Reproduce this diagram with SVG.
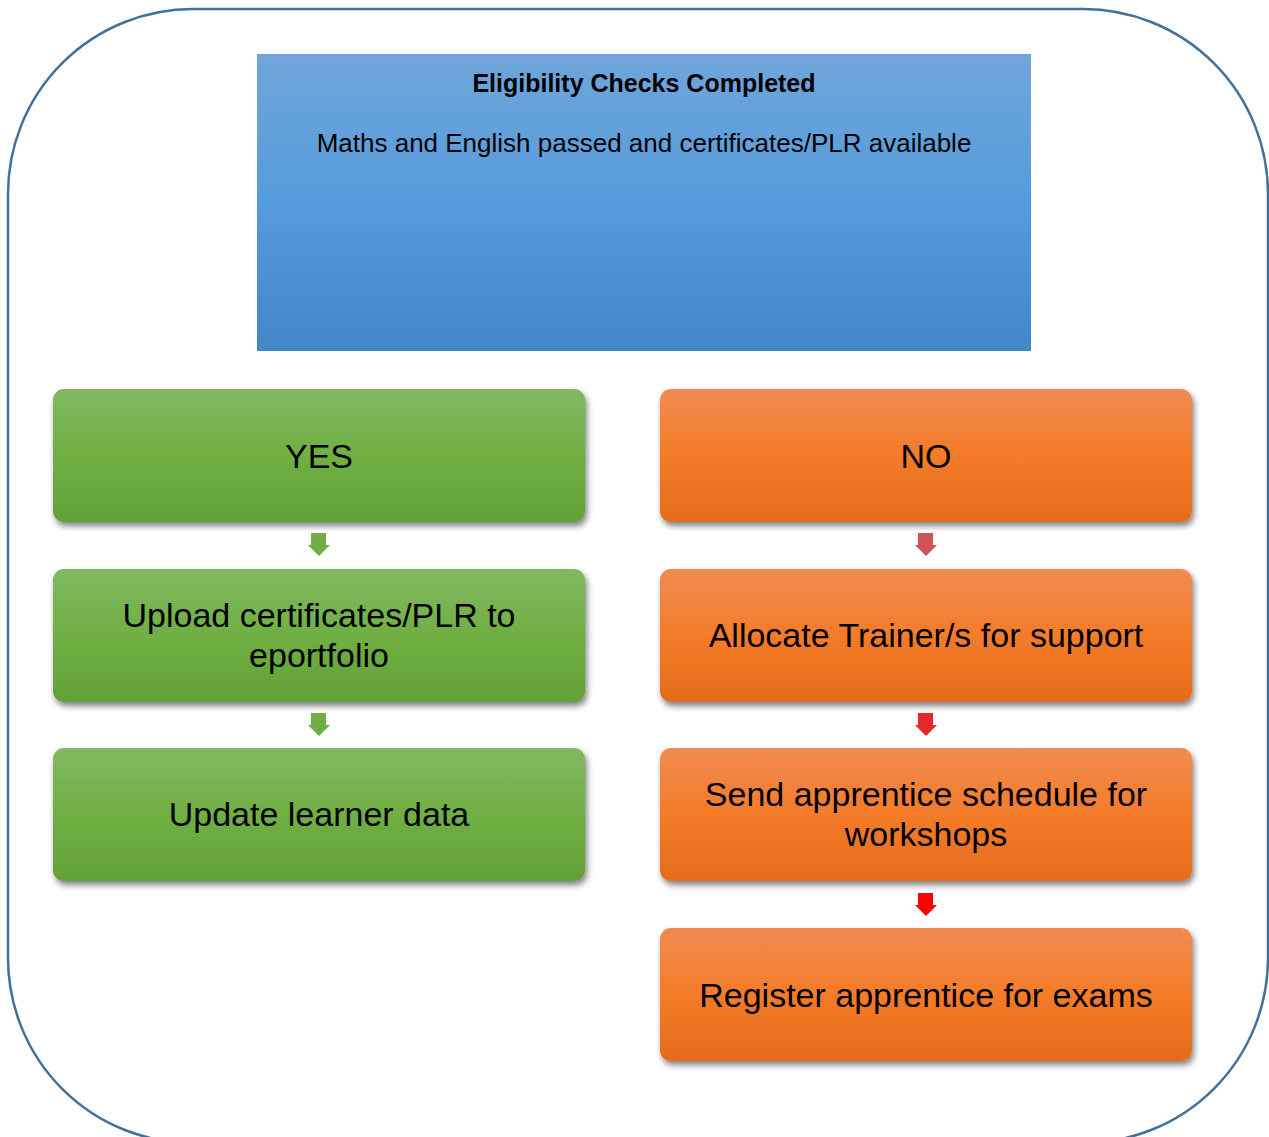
<svg xmlns="http://www.w3.org/2000/svg" width="1269" height="1137" viewBox="0 0 1269 1137">
<style>
.lbl{font-family:"Liberation Sans",Arial,sans-serif;font-size:34px;fill:#000;text-anchor:middle;dominant-baseline:central}
.t1{font-family:"Liberation Sans",Arial,sans-serif;font-size:25px;font-weight:bold;fill:#000;text-anchor:middle;dominant-baseline:central}
.t2{font-family:"Liberation Sans",Arial,sans-serif;font-size:26px;fill:#000;text-anchor:middle;dominant-baseline:central}
.g{fill:url(#gGreen);filter:url(#sh)}
.o{fill:url(#gOrange);filter:url(#sh)}
</style>
<defs>
<linearGradient id="gBlue" x1="0" y1="0" x2="0" y2="1">
<stop offset="0" stop-color="#6FA5DA"/><stop offset="0.5" stop-color="#559CDC"/><stop offset="1" stop-color="#4286C6"/>
</linearGradient>
<linearGradient id="gGreen" x1="0" y1="0" x2="0" y2="1">
<stop offset="0" stop-color="#81B862"/><stop offset="0.5" stop-color="#70AF43"/><stop offset="1" stop-color="#62A136"/>
</linearGradient>
<linearGradient id="gOrange" x1="0" y1="0" x2="0" y2="1">
<stop offset="0" stop-color="#F08B52"/><stop offset="0.5" stop-color="#F47B28"/><stop offset="1" stop-color="#E46B1B"/>
</linearGradient>
<filter id="sh" x="-5%" y="-10%" width="115%" height="130%">
<feDropShadow dx="2" dy="4" stdDeviation="3" flood-color="#000" flood-opacity="0.5"/>
</filter>
</defs>
<rect x="8" y="9" width="1260" height="1134" rx="185" ry="185" fill="#fff" stroke="#41719C" stroke-width="2.5"/>
<g id="connectors">
<path d="M311,533 h15 v12 h4 l-11,11 l-11,-11 h3 z" fill="#70AD47"/>
<path d="M311,713 h15 v12 h4 l-11,11 l-11,-11 h3 z" fill="#70AD47"/>
<path d="M918,533 h15 v12 h4 l-11,11 l-11,-11 h3 z" fill="#CD5458"/>
<path d="M918,713 h15 v12 h4 l-11,11 l-11,-11 h3 z" fill="#E5282C"/>
<path d="M918,893 h15 v12 h4 l-11,11 l-11,-11 h3 z" fill="#FF0000"/>
</g>
<g id="n-eligibility">
<rect x="257" y="54" width="774" height="297" fill="url(#gBlue)"/>
<text class="t1" x="644" y="83">Eligibility Checks Completed</text>
<text class="t2" x="644" y="143">Maths and English passed and certificates/PLR available</text>
</g>
<g id="n-yes">
<rect class="g" x="53" y="389" width="532" height="133" rx="11"/>
<text class="lbl" x="319" y="456">YES</text>
</g>
<g id="n-upload">
<rect class="g" x="53" y="569" width="532" height="133" rx="11"/>
<text class="lbl" x="319" y="615">Upload certificates/PLR to</text>
<text class="lbl" x="319" y="655">eportfolio</text>
</g>
<g id="n-update">
<rect class="g" x="53" y="748" width="532" height="133" rx="11"/>
<text class="lbl" x="319" y="814">Update learner data</text>
</g>
<g id="n-no">
<rect class="o" x="660" y="389" width="532" height="133" rx="11"/>
<text class="lbl" x="926" y="456">NO</text>
</g>
<g id="n-allocate">
<rect class="o" x="660" y="569" width="532" height="133" rx="11"/>
<text class="lbl" x="926" y="635">Allocate Trainer/s for support</text>
</g>
<g id="n-send">
<rect class="o" x="660" y="748" width="532" height="133" rx="11"/>
<text class="lbl" x="926" y="794">Send apprentice schedule for</text>
<text class="lbl" x="926" y="834">workshops</text>
</g>
<g id="n-register">
<rect class="o" x="660" y="928" width="532" height="133" rx="11"/>
<text class="lbl" x="926" y="995">Register apprentice for exams</text>
</g>
</svg>
